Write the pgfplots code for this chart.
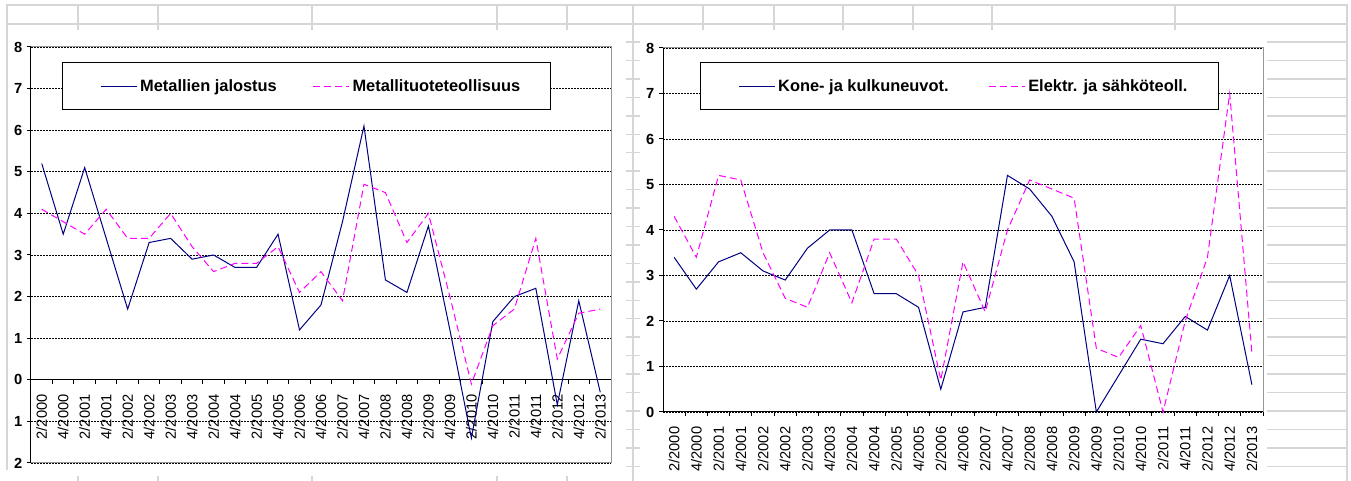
\documentclass[border=0pt]{standalone}
\usepackage{fontspec}
\setmainfont{Liberation Sans}
\usepackage{pgfplots}
\usepackage{pgfplotstable}
\pgfplotsset{compat=1.18}
\definecolor{navyline}{RGB}{0,0,128}
\definecolor{magline}{RGB}{255,0,255}
\definecolor{sheet}{RGB}{214,214,214}
\definecolor{frame}{RGB}{150,150,150}

\pgfplotstableread{
x a b
0 5.2 4.1
1 3.5 3.8
2 5.1 3.5
3 3.4 4.1
4 1.7 3.4
5 3.3 3.4
6 3.4 4.0
7 2.9 3.2
8 3.0 2.6
9 2.7 2.8
10 2.7 2.8
11 3.5 3.2
12 1.2 2.1
13 1.8 2.6
14 3.8 1.9
15 6.1 4.7
16 2.4 4.5
17 2.1 3.3
18 3.7 4.0
19 1.2 2.0
20 -1.4 -0.1
21 1.4 1.3
22 2.0 1.7
23 2.2 3.4
24 -0.6 0.5
25 1.9 1.6
26 -0.3 1.7
}\lefttable

\pgfplotstableread{
x a b
0 3.4 4.3
1 2.7 3.4
2 3.3 5.2
3 3.5 5.1
4 3.1 3.5
5 2.9 2.5
6 3.6 2.3
7 4.0 3.5
8 4.0 2.4
9 2.6 3.8
10 2.6 3.8
11 2.3 3.0
12 0.5 0.7
13 2.2 3.3
14 2.3 2.2
15 5.2 4.0
16 4.9 5.1
17 4.3 4.9
18 3.3 4.7
19 0.0 1.4
20 0.8 1.2
21 1.6 1.9
22 1.5 0.0
23 2.1 2.0
24 1.8 3.4
25 3.0 7.0
26 0.6 1.3
}\righttable

\pgfplotsset{
 excel/.style={
  scale only axis,
  xmin=-0.5, xmax=26.5,
  axis x line=middle, axis y line=left,
  axis line style={-, black, line width=0.75pt},
  xtick={-0.5,0.5,...,26.5}, xticklabels={},
  extra x ticks={0,...,26},
  extra x tick labels={2/2000,4/2000,2/2001,4/2001,2/2002,4/2002,2/2003,4/2003,2/2004,4/2004,2/2005,4/2005,2/2006,4/2006,2/2007,4/2007,2/2008,4/2008,2/2009,4/2009,2/2010,4/2010,2/2011,4/2011,2/2012,4/2012,2/2013},
  extra x tick style={major tick length=0pt, grid=none,
    xticklabel style={yshift=-7.5pt, rotate=90, anchor=east, font=\fontsize{11}{13}\selectfont}},
  tick align=outside, major tick length=3pt,
  tick style={black, line width=0.75pt},
  ymajorgrids, grid style={black, line width=0.6pt, dash pattern=on 1.5pt off 0.75pt},
  yticklabel style={font=\bfseries\fontsize{11}{13}\selectfont},
  legend columns=2,
  legend image code/.code={\path (0pt,0pt); \draw[##1] (7.5pt,0pt) -- (34.5pt,0pt);},
  legend style={draw=black, line width=0.75pt, fill=white, inner xsep=21pt, inner ysep=10.5pt,
    font=\bfseries\fontsize{12.3}{14}\selectfont, anchor=north west,
    /tikz/every even column/.append style={column sep=17.5pt}},
  clip=false,
 },
 blueser/.style={navyline, line width=0.75pt},
 magser/.style={magline, line width=0.75pt, dash pattern=on 5.25pt off 3pt},
}

\begin{document}
\begin{tikzpicture}
\path[use as bounding box, fill=white] (0,0) rectangle (1013.25pt,360.75pt);
\begin{scope}[x=0.75pt,y=-0.75pt,yshift=360.75pt, sheet, line width=1.1pt]
 \draw (6,5) -- (1348,5);
 \draw (6,24) -- (1348,24);
 \foreach \xx in {78,158,312,497,567,703,774,843,913,992,1175} {\draw (\xx,5) -- (\xx,30);}
 \foreach \xx in {78,158,312,497,567} {\draw (\xx,476) -- (\xx,481);}
 \draw (7,5) -- (7,470);
 \draw (633,5) -- (633,481);
 \draw (1347,5) -- (1347,481);
 \foreach \k in {0,...,23} {
   \pgfmathsetmacro\yy{42+18.45*\k}
   \draw (626,\yy) -- (640,\yy);
   \draw (1267,\yy) -- (1347,\yy);
 }
\end{scope}

\begin{axis}[excel,
  at={(23.25pt,13.5pt)}, anchor=south west,
  width=435pt, height=312pt,
  ymin=-2, ymax=8, ytick={-2,...,8},
  yticklabels={2,1,0,1,2,3,4,5,6,7,8},
  legend style={at={(rel axis cs:0.0534,0.964)}},
]
\addplot[blueser] table[x=x,y=a] {\lefttable};
\addlegendentry{Metallien jalostus}
\addplot[magser] table[x=x,y=b] {\lefttable};
\addlegendentry{Metallituoteteollisuus}
\draw[frame, line width=0.75pt] (rel axis cs:0,0) -- (rel axis cs:1,0) -- (rel axis cs:1,1) -- (rel axis cs:0,1);
\end{axis}

\begin{axis}[excel,
  at={(497.25pt,51.75pt)}, anchor=south west,
  width=450pt, height=273pt,
  ymin=0, ymax=8, ytick={0,...,8},
  yticklabels={0,1,2,3,4,5,6,7,8},
  legend style={at={(rel axis cs:0.0617,0.9615)}, /tikz/every even column/.append style={column sep=20.5pt}},
]
\addplot[blueser] table[x=x,y=a] {\righttable};
\addlegendentry{Kone- ja kulkuneuvot.}
\addplot[magser] table[x=x,y=b] {\righttable};
\addlegendentry{Elektr. ja sähköteoll.}
\draw[frame, line width=0.75pt] (rel axis cs:1,0) -- (rel axis cs:1,1) -- (rel axis cs:0,1);
\end{axis}
\end{tikzpicture}
\end{document}
